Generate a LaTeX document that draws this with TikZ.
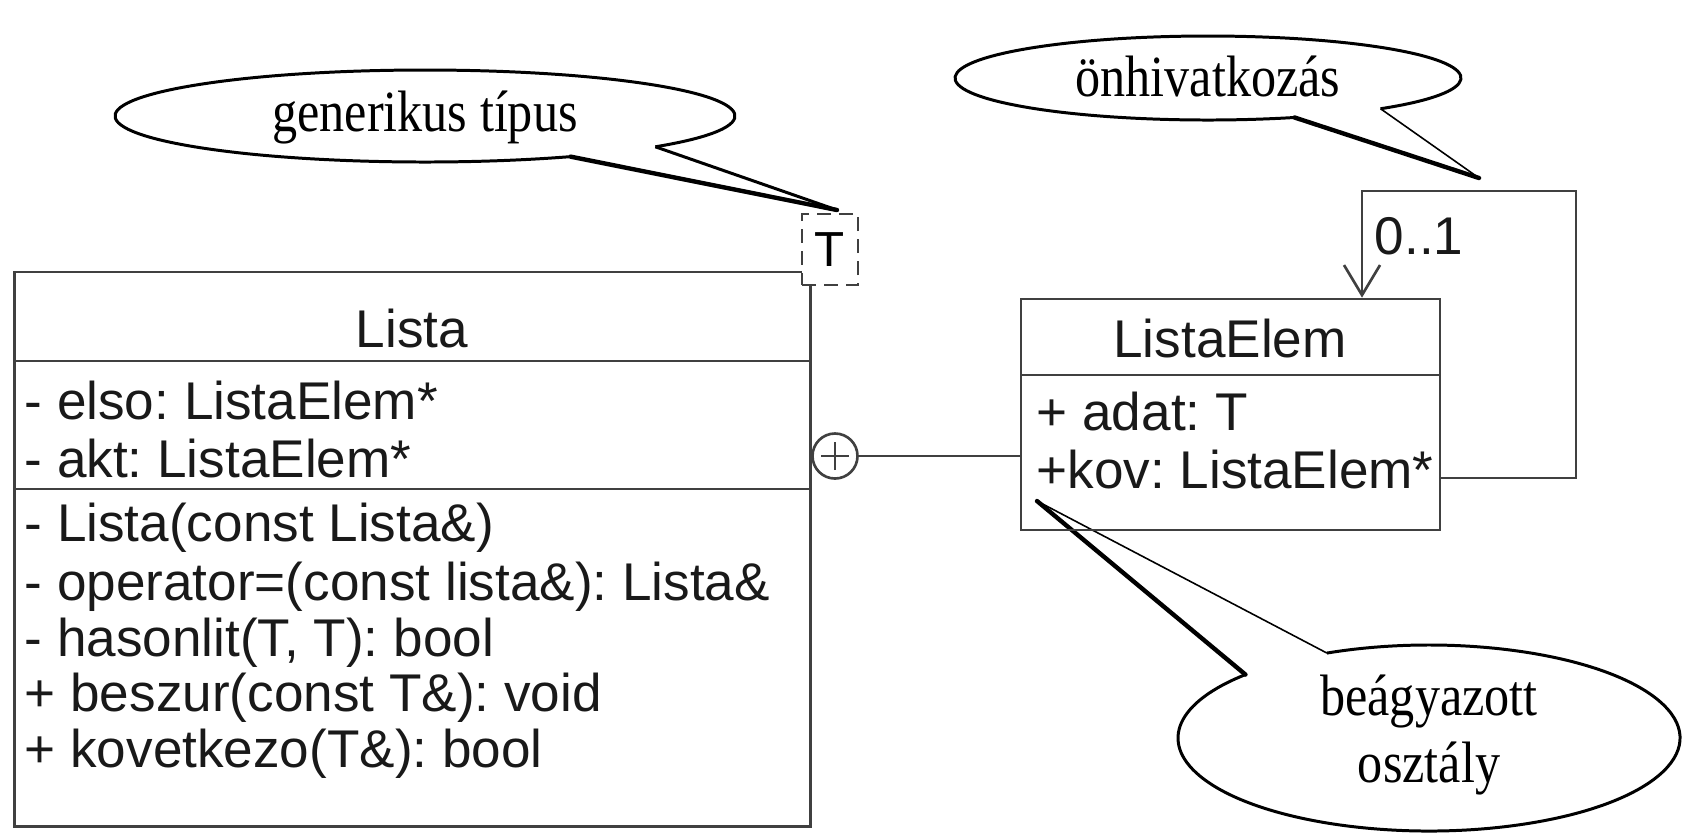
\documentclass[tikz,border=0pt]{standalone}
\usepackage{fontspec}
\setmainfont{Liberation Serif}
\newfontfamily\umlsans{Liberation Sans}
\newfontfamily\notefont[FakeStretch=0.86]{Liberation Serif}
\usetikzlibrary{arrows.meta, positioning}
\frenchspacing

\begin{document}
\begin{tikzpicture}[x=0.01cm, y=-0.01cm,
  uml/.style={draw=black!75, line width=0.75pt},
  member/.style={anchor=west, inner sep=0pt, text=black!90,
    font=\umlsans\fontsize{15.1}{18}\selectfont},
  classname/.style={member, anchor=center},
  bubble/.style={line width=0.85pt, line join=round},
  thintail/.style={line width=0.45pt},
  thicktail/.style={line width=1.25pt, line cap=round},
  note/.style={align=center, font=\notefont\fontsize{16.6}{18.8}\selectfont}]
  \useasboundingbox (0,0) rectangle (1682,835);

  % megjegyzesek
  \coordinate (genc) at (425,116);
  \coordinate (gentip) at (837,210);
  \draw[bubble] (genc) ++(42:310 and 46) arc[start angle=42, end angle=-298, x radius=310, y radius=46];
  \draw[bubble] (genc) ++(42:310 and 46) -- (gentip);
  \draw[thicktail] (genc) ++(62:310 and 46) -- (gentip);
  \node[note] (gentext) at (425,117) {generikus típus};

  \coordinate (selfc) at (1208,78);
  \coordinate (selftip) at (1479,178);
  \draw[bubble] (selfc) ++(47:253 and 42) arc[start angle=47, end angle=-290, x radius=253, y radius=42];
  \draw[thintail] (selfc) ++(47:253 and 42) -- (selftip);
  \draw[thicktail] (selfc) ++(70:253 and 42) -- (selftip);
  \node[note] (selftext) at (1208,76) {önhivatkozás};

  \coordinate (nestc) at (1429,738);
  \coordinate (nesttip) at (1037,501);
  \draw[bubble] (nestc) ++(-114:251 and 93) arc[start angle=-114, end angle=223, x radius=251, y radius=93];
  \draw[thintail] (nestc) ++(-114:251 and 93) -- (nesttip);
  \draw[thicktail] (nestc) ++(223:251 and 93) -- (nesttip);
  \node[note] (nesttext) at (1429,735) {beágyazott\\osztály};

  % Lista osztaly
  \node[uml, minimum width=7.95cm, minimum height=5.54cm, inner sep=0] (lista) at (412.5,549) {};
  \node[classname] (listaname) at (412,329) {Lista};
  \draw[uml] (15,361) -- (810,361);
  \draw[uml] (15,489) -- (810,489);
  \node[member] (elso) at (24,400) {- elso: ListaElem*};
  \node[member] (akt) at (24,458) {- akt: ListaElem*};
  \node[member] (copy) at (24,528) {- Lista(const Lista\&)};
  \node[member] (assign) at (24,587) {- operator=(const lista\&): Lista\&};
  \node[member] (hasonlit) at (24,643) {- hasonlit(T, T): bool};
  \node[member] (beszur) at (24,698) {+ beszur(const T\&): void};
  \node[member] (kovetkezo) at (24,754) {+ kovetkezo(T\&): bool};

  % sablon parameter
  \node[uml, dashed, dash pattern=on 0.14cm off 0.08cm, fill=white,
    minimum width=0.56cm, minimum height=0.71cm, inner sep=0,
    font=\umlsans\fontsize{14}{16}\selectfont] (tparam) at (830,249.5) {T};

  % ListaElem osztaly
  \node[uml, minimum width=4.19cm, minimum height=2.31cm, inner sep=0] (elem) at (1230.5,414.5) {};
  \node[classname] (elemname) at (1230,339) {ListaElem};
  \draw[uml] (1021,375) -- (1440,375);
  \node[member] (adat) at (1036,412) {+ adat: T};
  \node[member] (kov) at (1036,469) {+kov: ListaElem*};

  % beagyazas
  \node[uml, circle, minimum size=0.45cm, inner sep=0] (nest) at (835,456) {};
  \draw[uml] ([xshift=-0.14cm]nest.center) -- ([xshift=0.14cm]nest.center);
  \draw[uml] ([yshift=-0.14cm]nest.center) -- ([yshift=0.14cm]nest.center);
  \draw[uml] (nest) -- (nest -| elem.west);

  % onhivatkozas
  \coordinate (loopstart) at (1440,478);
  \coordinate (loopr) at (1576,191);
  \coordinate (loopl) at (1362,191);
  \draw[uml, -{Straight Barb[length=0.3cm, width=0.36cm]}]
    (loopstart) -| (loopr) -- (loopl) -- (loopl |- elem.north);
  \node[member] (mult) at (1374,236) {0..1};
\end{tikzpicture}
\end{document}
